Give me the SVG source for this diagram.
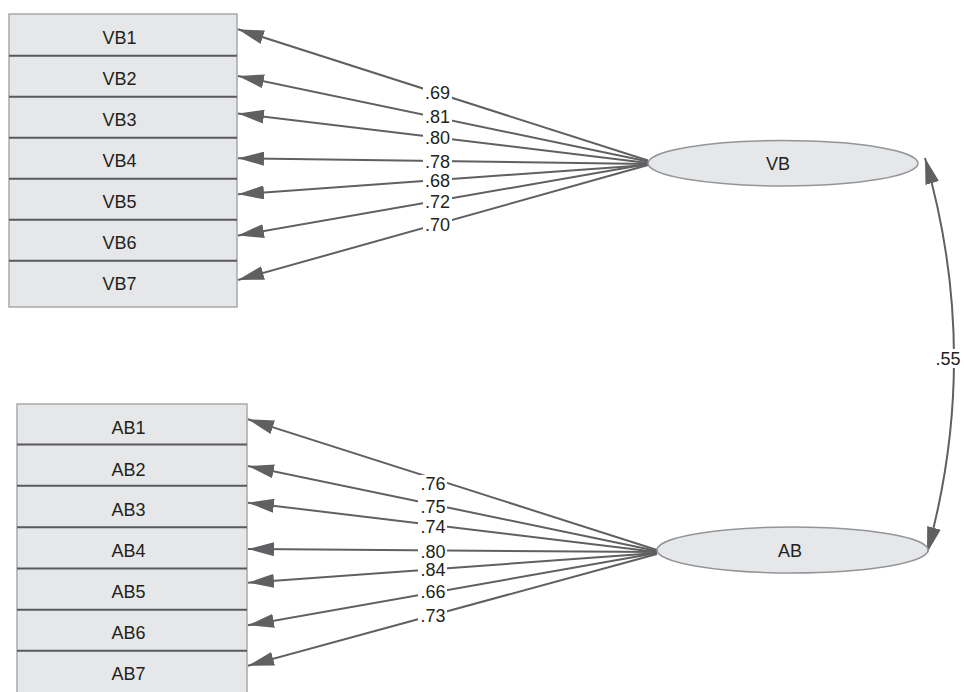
<svg xmlns="http://www.w3.org/2000/svg" width="964" height="692" viewBox="0 0 964 692">
<style>
.box{fill:#e6e7e8;stroke:#a7a9ac;stroke-width:1.5}
.div{stroke:#58595b;stroke-width:2}
.ell{fill:#e6e7e8;stroke:#939598;stroke-width:1.5}
.t{font-family:"Liberation Sans",Arial,sans-serif;font-size:18px;fill:#231f20;text-anchor:middle}
.c{stroke:#606062;stroke-width:2;fill:none;marker-end:url(#ah)}
.lb{fill:#ffffff}
</style>
<defs>
<marker id="ah" markerUnits="userSpaceOnUse" markerWidth="26" markerHeight="14" viewBox="0 0 26 14" refX="26" refY="7" orient="auto-start-reverse">
<path d="M0,0 L26,7 L0,14 z" fill="#606062"/>
</marker>
</defs>
<rect width="964" height="692" fill="#ffffff"/>
<g id="vb-indicators">
<rect class="box" x="9" y="14" width="228" height="293"/>
<g id="VB1"><text class="t" x="119.5" y="44">VB1</text></g>
<line class="div" x1="9" y1="55.7" x2="237" y2="55.7"/>
<g id="VB2"><text class="t" x="119.5" y="85">VB2</text></g>
<line class="div" x1="9" y1="96.7" x2="237" y2="96.7"/>
<g id="VB3"><text class="t" x="119.5" y="126">VB3</text></g>
<line class="div" x1="9" y1="137.7" x2="237" y2="137.7"/>
<g id="VB4"><text class="t" x="119.5" y="167">VB4</text></g>
<line class="div" x1="9" y1="178.7" x2="237" y2="178.7"/>
<g id="VB5"><text class="t" x="119.5" y="208">VB5</text></g>
<line class="div" x1="9" y1="219.7" x2="237" y2="219.7"/>
<g id="VB6"><text class="t" x="119.5" y="249">VB6</text></g>
<line class="div" x1="9" y1="260.7" x2="237" y2="260.7"/>
<g id="VB7"><text class="t" x="119.5" y="290.3">VB7</text></g>
</g>
<g id="ab-indicators">
<rect class="box" x="17" y="404" width="230" height="300"/>
<g id="AB1"><text class="t" x="128.5" y="434">AB1</text></g>
<line class="div" x1="17" y1="444.5" x2="247" y2="444.5"/>
<g id="AB2"><text class="t" x="128.5" y="475.6">AB2</text></g>
<line class="div" x1="17" y1="485.7" x2="247" y2="485.7"/>
<g id="AB3"><text class="t" x="128.5" y="516">AB3</text></g>
<line class="div" x1="17" y1="527.2" x2="247" y2="527.2"/>
<g id="AB4"><text class="t" x="128.5" y="556.8">AB4</text></g>
<line class="div" x1="17" y1="568.5" x2="247" y2="568.5"/>
<g id="AB5"><text class="t" x="128.5" y="597.8">AB5</text></g>
<line class="div" x1="17" y1="609.7" x2="247" y2="609.7"/>
<g id="AB6"><text class="t" x="128.5" y="638.8">AB6</text></g>
<line class="div" x1="17" y1="650.7" x2="247" y2="650.7"/>
<g id="AB7"><text class="t" x="128.5" y="680">AB7</text></g>
</g>
<g id="connectors">
<line class="c" x1="648" y1="160.5" x2="238" y2="29.3"/>
<line class="c" x1="648" y1="161.5" x2="238" y2="76"/>
<line class="c" x1="648" y1="163" x2="238" y2="113.5"/>
<line class="c" x1="648" y1="164" x2="238" y2="158.3"/>
<line class="c" x1="648" y1="165" x2="238" y2="194.3"/>
<line class="c" x1="648" y1="164" x2="238" y2="235.5"/>
<line class="c" x1="648" y1="165" x2="238" y2="280"/>
<line class="c" x1="657" y1="550" x2="248" y2="419.3"/>
<line class="c" x1="657" y1="551" x2="248" y2="466"/>
<line class="c" x1="657" y1="552" x2="248" y2="502.7"/>
<line class="c" x1="657" y1="552" x2="248" y2="549"/>
<line class="c" x1="657" y1="553" x2="248" y2="582.7"/>
<line class="c" x1="657" y1="553" x2="248" y2="625.3"/>
<line class="c" x1="657" y1="554" x2="248" y2="665.7"/>
<path class="c" d="M925,158 Q982,355 927,553" style="marker-start:url(#ah)"/>
<g id="labels">
<rect class="lb" x="423" y="85" width="29" height="16"/><text class="t" x="437.5" y="99.4">.69</text>
<rect class="lb" x="423" y="109" width="29" height="16"/><text class="t" x="437.5" y="123.4">.81</text>
<rect class="lb" x="423" y="130" width="29" height="16"/><text class="t" x="437.5" y="144.4">.80</text>
<rect class="lb" x="423" y="153" width="29" height="16"/><text class="t" x="437.5" y="167.7">.78</text>
<rect class="lb" x="423" y="172" width="29" height="16"/><text class="t" x="437.5" y="186.7">.68</text>
<rect class="lb" x="423" y="193" width="29" height="16"/><text class="t" x="437.5" y="207.7">.72</text>
<rect class="lb" x="423" y="216" width="29" height="16"/><text class="t" x="437.5" y="231">.70</text>
<rect class="lb" x="418" y="475" width="29" height="16"/><text class="t" x="433" y="490">.76</text>
<rect class="lb" x="418" y="499" width="29" height="16"/><text class="t" x="433" y="513.4">.75</text>
<rect class="lb" x="418" y="518" width="29" height="16"/><text class="t" x="433" y="533">.74</text>
<rect class="lb" x="418" y="543" width="29" height="16"/><text class="t" x="433" y="557.7">.80</text>
<rect class="lb" x="418" y="561" width="29" height="16"/><text class="t" x="433" y="576">.84</text>
<rect class="lb" x="418" y="583" width="29" height="16"/><text class="t" x="433" y="597.7">.66</text>
<rect class="lb" x="418" y="607" width="29" height="16"/><text class="t" x="433" y="621.7">.73</text>
<rect class="lb" x="935" y="349" width="28" height="19"/><text class="t" x="948" y="365">.55</text>
</g>
</g>
<g id="VB"><ellipse class="ell" cx="783" cy="163.3" rx="135" ry="22.7"/><text class="t" x="778" y="169.5">VB</text></g>
<g id="AB"><ellipse class="ell" cx="792.5" cy="550" rx="135.5" ry="23"/><text class="t" x="790" y="556.5">AB</text></g>
</svg>
